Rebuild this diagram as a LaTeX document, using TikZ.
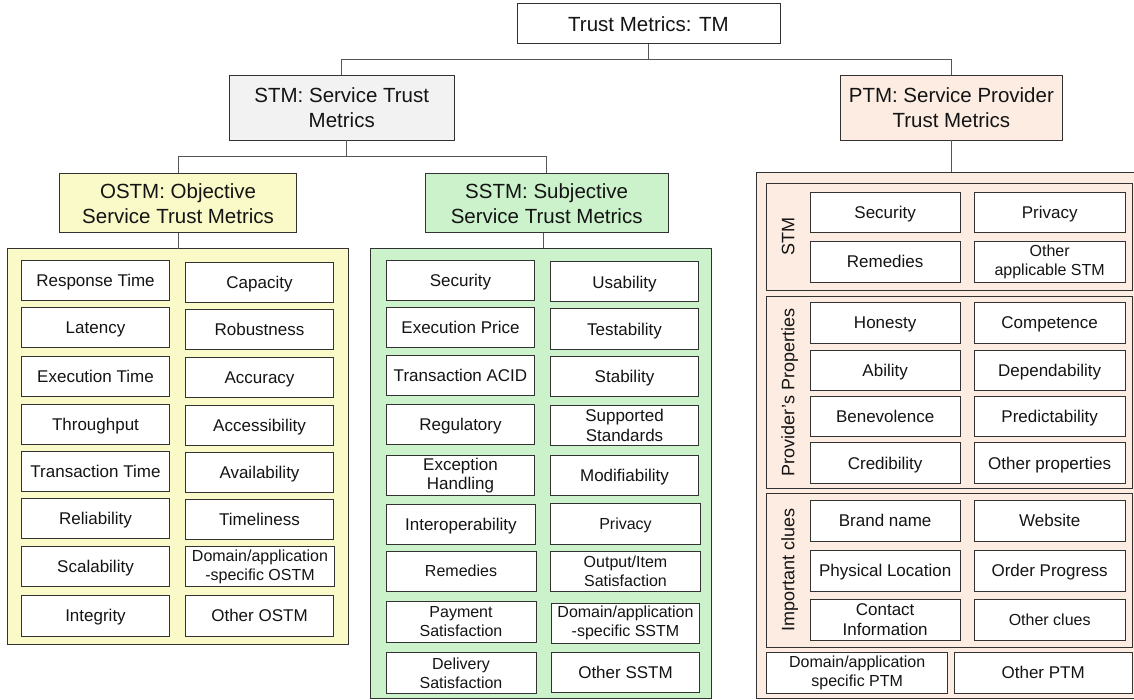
\documentclass[tikz,border=0pt]{standalone}
\usepackage{fontspec}
\setmainfont{Liberation Sans}
\definecolor{ylw}{RGB}{250,250,200}
\definecolor{grn}{RGB}{204,242,204}
\definecolor{pch}{RGB}{252,236,226}
\definecolor{gry}{RGB}{242,242,242}
\definecolor{edge}{RGB}{50,50,50}
\definecolor{wire}{RGB}{85,85,85}
\tikzset{
 base/.style={draw=edge, line width=1pt, inner sep=0pt, outer sep=0pt, align=center, text=black!92, font=\fontsize{17}{19.5}\selectfont},
 item/.style={base, fill=white},
 one/.style={item, text height=12.2pt, text depth=0pt},
 sm/.style={font=\fontsize{16}{19}\selectfont},
 onesm/.style={item, sm, text height=11.5pt, text depth=0pt},
 head/.style={base, font=\fontsize{20.5}{25}\selectfont},
 conn/.style={draw=wire, line width=1pt},
 vlab/.style={rotate=90, font=\fontsize{18}{20}\selectfont, inner sep=0pt, text=black!92, text height=12.9pt, text depth=0pt},
}
\newcommand\bx[7][one]{\node[#1, minimum width={(#5)-(#3)}, minimum height={(#6)-(#4)}] (#2) at ({((#3)+(#5))/2},{((#4)+(#6))/2}) {#7};}
\begin{document}
\begin{tikzpicture}[x=1pt,y=-1pt]
\useasboundingbox (0,0) rectangle (1134,700);
\clip (0,0) rectangle (1134,700);
% headers
\bx[head,fill=white,text height=14.7pt,text depth=0pt]{tm}{517}{4}{780}{44}{Trust Metrics: TM}
\bx[head,fill=gry]{stm}{229.5}{75.3}{454}{140.5}{STM: Service Trust\\Metrics}
\bx[head,fill=pch]{ptm}{840}{75.3}{1062.7}{140.5}{PTM: Service Provider\\Trust Metrics}
\bx[head,fill=ylw]{ostm}{59.6}{173.5}{296.6}{233}{OSTM: Objective\\Service Trust Metrics}
\bx[head,fill=grn]{sstm}{425}{173.5}{668.3}{233}{SSTM: Subjective\\Service Trust Metrics}
% panels
\bx[base,fill=ylw]{op}{7.3}{249}{348.3}{644}{}
\bx[base,fill=grn]{sp}{370}{248.3}{711}{698}{}
\bx[base,fill=pch]{pp}{756.7}{172.3}{1150}{698.3}{}
\bx[base,fill=pch]{ps1}{766.7}{183.3}{1132}{290.7}{}
\bx[base,fill=pch]{ps2}{766.7}{296.7}{1132}{488.3}{}
\bx[base,fill=pch]{ps3}{766.7}{493.3}{1132}{647.3}{}
% connectors
\coordinate (j0) at (648.5,59.3);
\coordinate (j1) at (346,156.7);
\draw[conn] (tm.south) -- (j0);
\draw[conn] (stm.north) |- (j0) -| (ptm.north);
\draw[conn] (j1 |- stm.south) -- (j1);
\draw[conn] (ostm.north) |- (j1) -| (sstm.north);
\draw[conn] (ostm.south) -- (ostm.south |- op.north);
\draw[conn] (sstm.south) ++(-3.4,0) coordinate (sb) -- (sb |- sp.north);
\draw[conn] (ptm.south) -- (ptm.south |- pp.north);
% OSTM items
\bx{o1}{21.7}{260.7}{169.3}{301}{Response Time}
\bx{o2}{21.7}{307.7}{169.3}{347.7}{Latency}
\bx{o3}{21.7}{356}{169.3}{396}{Execution Time}
\bx{o4}{21.7}{404.3}{169.3}{444.3}{Throughput}
\bx{o5}{21.7}{451.3}{169.3}{491.3}{Transaction Time}
\bx{o6}{21.7}{498.3}{169.3}{538.3}{Reliability}
\bx{o7}{21.7}{546.7}{169.3}{586.7}{Scalability}
\bx{o8}{21.7}{595.7}{169.3}{636}{Integrity}
\bx{o9}{185.7}{262.3}{333.3}{302.3}{Capacity}
\bx{o10}{185.7}{309.3}{333.3}{349.3}{Robustness}
\bx{o11}{185.7}{357.3}{333.3}{397.3}{Accuracy}
\bx{o12}{185.7}{405.7}{333.3}{445.7}{Accessibility}
\bx{o13}{185.7}{452.7}{333.3}{492.7}{Availability}
\bx{o14}{185.7}{499.7}{333.3}{539.7}{Timeliness}
\bx[item,sm]{o15}{185.7}{546.7}{334.3}{586.7}{Domain/application\\-specific OSTM}
\bx{o16}{185.7}{595.7}{333.3}{636}{Other OSTM}
% SSTM items
\bx{s1}{386.7}{260.7}{534.3}{300.7}{Security}
\bx{s2}{386.7}{307.7}{534.3}{347.7}{Execution Price}
\bx{s3}{386.7}{355.7}{534.3}{395.7}{Transaction ACID}
\bx{s4}{386.7}{404}{534.3}{444}{Regulatory}
\bx[item]{s5}{386.7}{455.7}{534.3}{495.7}{Exception\\Handling}
\bx{s6}{386.7}{504}{535}{544}{Interoperability}
\bx[onesm]{s7}{386}{551}{536}{591}{Remedies}
\bx[item,sm]{s8}{386}{601.7}{536}{642.3}{Payment\\Satisfaction}
\bx[item,sm]{s9}{386}{652.7}{536}{693.3}{Delivery\\Satisfaction}
\bx{s10}{550.7}{262}{698.3}{302}{Usability}
\bx{s11}{550.7}{309}{698.3}{349}{Testability}
\bx{s12}{550.7}{356.7}{698.3}{396.7}{Stability}
\bx[item]{s13}{550.7}{405.3}{698.3}{445.3}{Supported\\Standards}
\bx{s14}{550.7}{455.3}{698.3}{495.3}{Modifiability}
\bx[onesm]{s15}{550.7}{503.3}{700.3}{544}{Privacy}
\bx[item,sm]{s16}{550.7}{551}{700.3}{591.7}{Output/Item\\Satisfaction}
\bx[item,sm]{s17}{551.7}{603.3}{699.3}{643.3}{Domain/application\\-specific SSTM}
\bx{s18}{551.7}{652}{699.3}{692}{Other SSTM}
% PTM section labels
\node[vlab] (l1) at (788,237) {STM};
\node[vlab] (l2) at (788,392.5) {Provider’s Properties};
\node[vlab] (l3) at (788,570.3) {Important clues};
% PTM items
\bx{p1}{810}{192.3}{960.3}{233}{Security}
\bx{p2}{810}{241.3}{960.3}{282.3}{Remedies}
\bx{p3}{974.3}{192.3}{1125}{233}{Privacy}
\bx[item,sm]{p4}{974.3}{241.3}{1125}{282.3}{Other\\applicable STM}
\bx{p5}{810}{302.3}{960.3}{343.3}{Honesty}
\bx{p6}{810}{350}{960.3}{390.7}{Ability}
\bx{p7}{810}{396}{960.3}{436.7}{Benevolence}
\bx{p8}{810}{442.7}{960.3}{483.3}{Credibility}
\bx{p9}{974.3}{302.3}{1125}{343.3}{Competence}
\bx{p10}{974.3}{350}{1125}{390.7}{Dependability}
\bx{p11}{974.3}{396}{1125}{436.7}{Predictability}
\bx{p12}{974.3}{442.7}{1125}{483.3}{Other properties}
\bx{p13}{810}{500.7}{960.3}{541}{Brand name}
\bx{p14}{810}{550}{960.3}{591}{Physical Location}
\bx[item]{p15}{810}{599.3}{960.3}{640}{Contact\\Information}
\bx{p16}{974.3}{500.7}{1125}{541}{Website}
\bx{p17}{974.3}{550}{1125}{591}{Order Progress}
\bx[onesm]{p18}{974.3}{599.3}{1125}{640}{Other clues}
\bx[item,sm]{p19}{766.7}{652.5}{947.7}{693}{Domain/application\\specific PTM}
\bx{p20}{954.3}{652.5}{1132}{693}{Other PTM}
\end{tikzpicture}
\end{document}
